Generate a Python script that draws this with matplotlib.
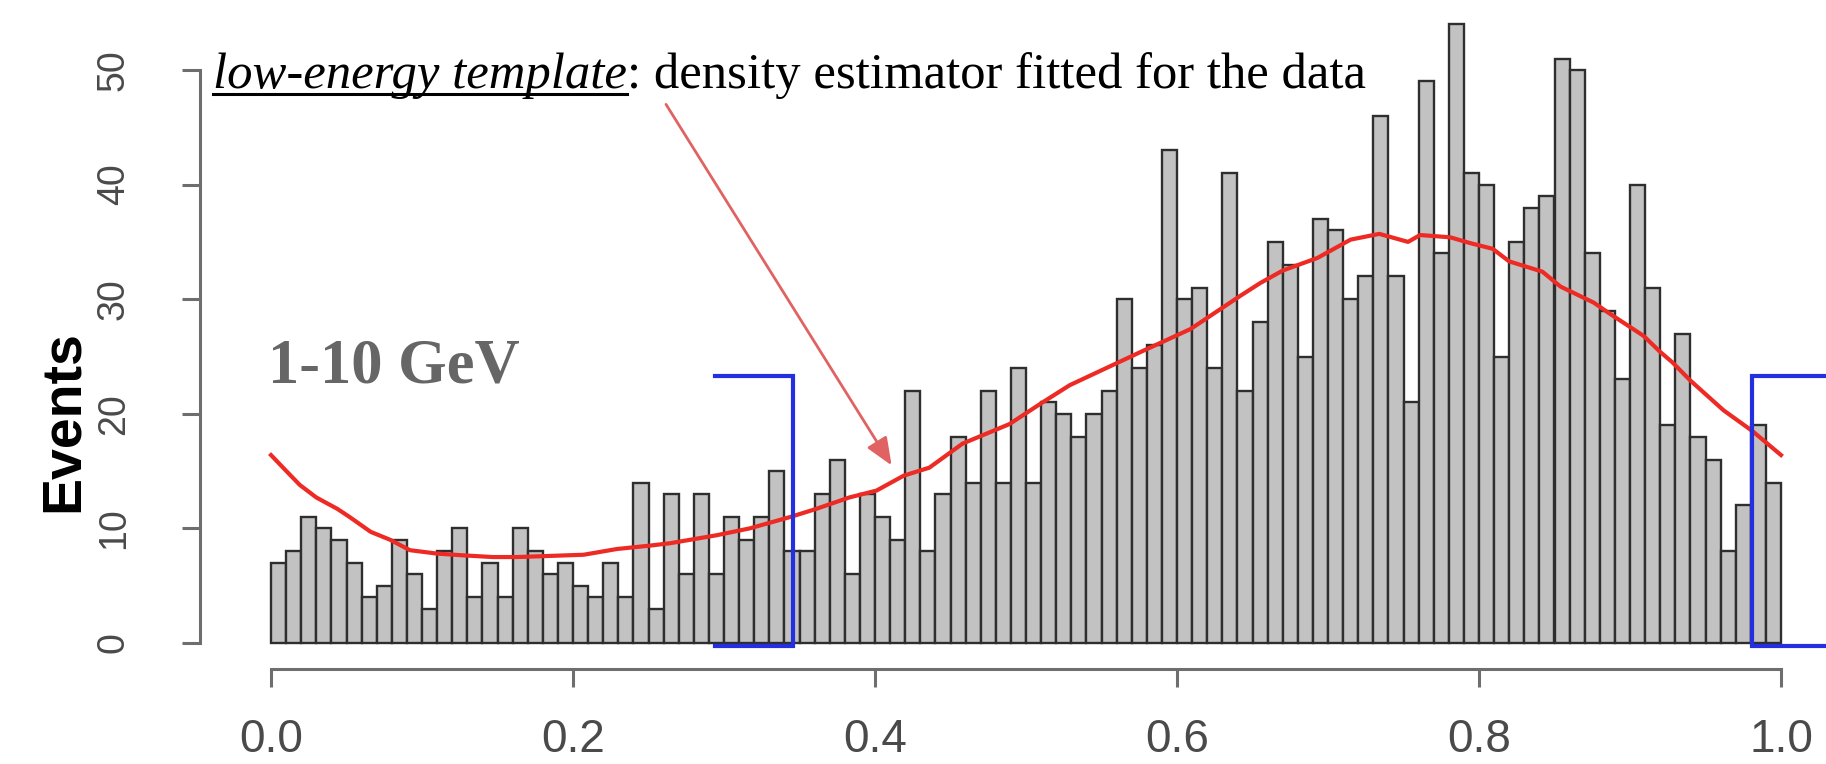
"""
低能模板直方图：事件计数 + 密度估计曲线 + 选区框
"""
import numpy as np
import matplotlib
import matplotlib.pyplot as plt

matplotlib.use('Agg')  # 非交互式后端

# 每个 0.01 宽 bin 的事件数（0.0 - 1.0，共 100 个）
counts = [
    7, 8, 11, 10, 9, 7, 4, 5, 9, 6,
    3, 8, 10, 4, 7, 4, 10, 8, 6, 7,
    5, 4, 7, 4, 14, 3, 13, 6, 13, 6,
    11, 9, 11, 15, 8, 8, 13, 16, 6, 13,
    11, 9, 22, 8, 13, 18, 14, 22, 14, 24,
    14, 21, 20, 18, 20, 22, 30, 24, 26, 43,
    30, 31, 24, 41, 22, 28, 35, 33, 25, 37,
    36, 30, 32, 46, 32, 21, 49, 34, 54, 41,
    40, 25, 35, 38, 39, 51, 50, 34, 29, 23,
    40, 31, 19, 27, 18, 16, 8, 12, 19, 14,
]

# 密度估计曲线（已换算为事件数）
density_x = [0.0, 0.008, 0.019, 0.03, 0.044, 0.052, 0.066, 0.079, 0.092, 0.11,
             0.127, 0.147, 0.163, 0.185, 0.207, 0.229, 0.251, 0.264, 0.295, 0.317,
             0.344, 0.361, 0.383, 0.401, 0.419, 0.436, 0.458, 0.489, 0.511, 0.529,
             0.576, 0.609, 0.642, 0.655, 0.670, 0.693, 0.715, 0.734, 0.753, 0.761,
             0.781, 0.794, 0.809, 0.82, 0.842, 0.854, 0.876, 0.887, 0.909, 0.92,
             0.928, 0.94, 0.962, 0.981, 1.0]
density_y = [16.4, 15.3, 13.8, 12.7, 11.7, 11.0, 9.7, 9.0, 8.1, 7.8,
             7.65, 7.5, 7.5, 7.6, 7.7, 8.2, 8.5, 8.7, 9.4, 10.0,
             11.0, 11.7, 12.7, 13.3, 14.6, 15.3, 17.4, 19.1, 21.0, 22.5,
             25.4, 27.4, 30.3, 31.4, 32.5, 33.6, 35.2, 35.7, 35.0, 35.6,
             35.4, 34.9, 34.4, 33.3, 32.4, 31.1, 29.7, 28.7, 26.8, 25.4,
             24.5, 22.9, 20.3, 18.5, 16.4]

# 选区框（左侧收口、右侧开口）
box_left_x = [0.294, 0.346, 0.346, 0.294]
box_left_y = [23.3, 23.3, -0.3, -0.3]
box_right_x = [1.03, 0.981, 0.981, 1.03]
box_right_y = [23.3, 23.3, -0.3, -0.3]

x_ticks = [0.0, 0.2, 0.4, 0.6, 0.8, 1.0]
x_ticklabels = ['0.0', '0.2', '0.4', '0.6', '0.8', '1.0']
y_ticks = [0, 10, 20, 30, 40, 50]

# 画布与坐标映射（像素）
W, H, DPI = 1826, 764, 100
X0_PX, X1_PX = 271, 1781      # x = 0 / 1 的位置
Y0_PX, Y50_PX = 643, 70       # y = 0 / 50 的位置（自顶向下）
XLIM = (-0.1, 1.03)
YLIM = (-4, 56)


def _axes_rect():
    sx = X1_PX - X0_PX
    sy = (Y0_PX - Y50_PX) / 50.0
    left = X0_PX + XLIM[0] * sx
    right = X0_PX + XLIM[1] * sx
    top = Y0_PX - YLIM[1] * sy
    bottom = Y0_PX - YLIM[0] * sy
    return [left / W, 1 - bottom / H, (right - left) / W, (bottom - top) / H]


fig = plt.figure(figsize=(W / DPI, H / DPI), dpi=DPI)
ax = fig.add_axes(_axes_rect())
ax.set_xlim(*XLIM)
ax.set_ylim(*YLIM)

# 直方图
edges = np.linspace(0.0, 1.0, len(counts) + 1)
ax.bar(edges[:-1], counts, width=np.diff(edges), align='edge',
       color='#c2c2c2', edgecolor='#2e2e2e', linewidth=1.7, zorder=2)

# 密度曲线
ax.plot(density_x, density_y, color='#ee2a24', linewidth=3.0, zorder=4)

# 蓝色选区
for bx, by in ((box_left_x, box_left_y), (box_right_x, box_right_y)):
    ax.plot(bx, by, color='#2430e0', linewidth=3.0, zorder=5, clip_on=False,
            solid_joinstyle='miter')

# R 风格分离坐标轴
for side in ('top', 'right'):
    ax.spines[side].set_visible(False)
ax.spines['left'].set_position(('data', -0.047))
ax.spines['left'].set_bounds(0, 50)
ax.spines['bottom'].set_position(('data', -2.3))
ax.spines['bottom'].set_bounds(0, 1)
for side in ('left', 'bottom'):
    ax.spines[side].set_color('#6e6e6e')
    ax.spines[side].set_linewidth(2.2)

ax.set_xticks(x_ticks)
ax.set_xticklabels(x_ticklabels)
ax.set_yticks(y_ticks)
ax.tick_params(axis='both', direction='out', length=13, width=2.2, color='#6e6e6e')
ax.tick_params(axis='x', labelsize=33, labelcolor='#4a4a4a', pad=22)
ax.tick_params(axis='y', labelsize=27, labelcolor='#4a4a4a', pad=36, labelrotation=90)
for lab in ax.get_yticklabels():
    lab.set_family(['Liberation Sans Narrow', 'Liberation Sans'])
    lab.set_va('center')
for lab in ax.get_xticklabels():
    lab.set_family('Liberation Sans')

# 纵轴标题
fig.text(64 / W, 1 - 421 / H, 'Events', rotation=90, ha='center', va='center',
         fontsize=40, fontweight='bold', family='Liberation Sans', color='black')

# 能段标注
ax.text(-0.002, 22.7, '1-10 GeV', fontsize=45, fontweight='bold',
        family='Liberation Serif', color='#666666', va='baseline', ha='left')

# 说明文字：斜体下划线 + 正文
note_y = 48.4
note_size = 36.5
t1 = ax.text(-0.0384, note_y, 'low-energy template', fontsize=note_size, style='italic',
             family='Liberation Serif', color='black', va='baseline', ha='left',
             clip_on=False)
ax.annotate(': density estimator fitted for the data', xy=(1, note_y),
            xycoords=(t1, 'data'), fontsize=note_size, family='Liberation Serif',
            color='black', va='baseline', ha='left', annotation_clip=False)

fig.canvas.draw()
bb = t1.get_window_extent()
inv = ax.transData.inverted()
(ux0, _), (ux1, _) = inv.transform([(bb.x0, 0), (bb.x1, 0)])
uy = note_y - 6.0 / ((Y0_PX - Y50_PX) / 50.0)
ax.plot([ux0, ux1], [uy, uy], color='black', linewidth=2.2, clip_on=False, zorder=6)

# 指向曲线的箭头
ax.annotate('', xy=(0.411, 15.5), xytext=(0.2616, 47.0),
            arrowprops=dict(arrowstyle='-|>,head_length=0.6,head_width=0.25',
                            color='#e06262', lw=2.0, mutation_scale=28,
                            shrinkA=0, shrinkB=0),
            zorder=6, annotation_clip=False)

plt.savefig('out.png', dpi=DPI, facecolor='white')
plt.close(fig)
